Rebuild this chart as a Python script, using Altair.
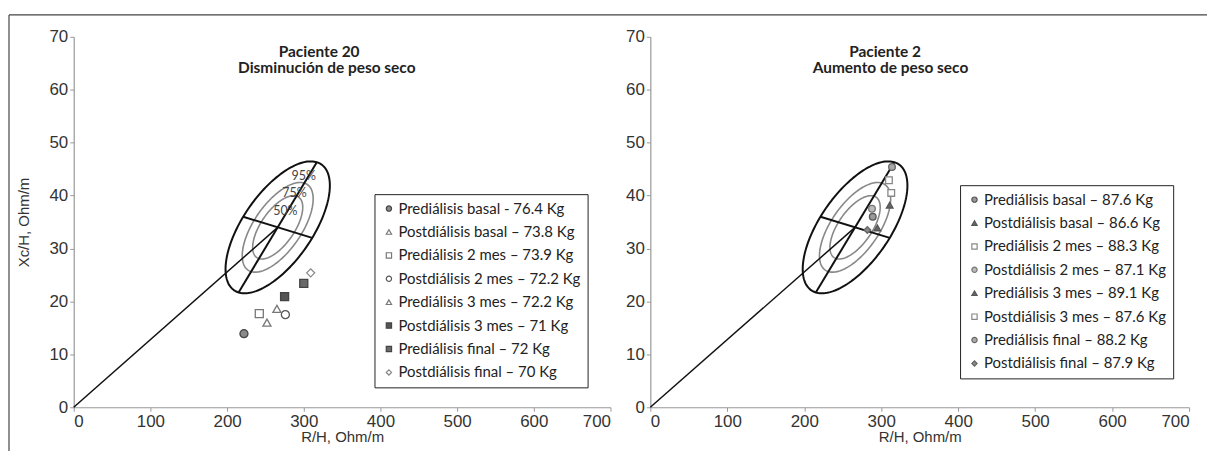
import numpy as np
import pandas as pd
import altair as alt

# ---------------- data ----------------
left_labels = [
    "Prediálisis basal -  76.4 Kg",
    "Postdiálisis basal – 73.8 Kg",
    "Prediálisis 2 mes – 73.9 Kg",
    "Postdiálisis 2 mes – 72.2 Kg",
    "Prediálisis 3 mes – 72.2 Kg",
    "Postdiálisis 3 mes – 71 Kg",
    "Prediálisis final – 72 Kg",
    "Postdiálisis final – 70 Kg",
]
left_rh = [222, 252, 242, 276, 265, 275, 300, 309]
left_xc = [13.9, 16.0, 17.7, 17.5, 18.6, 20.9, 23.4, 25.4]
left_shapes = ["circle", "triangle-up", "square", "circle", "triangle-up", "square", "square", "diamond"]
left_fills = ["#8a8a8a", "white", "white", "white", "white", "#555555", "#6a6a6a", "white"]
left_strokes = ["#444444", "#777777", "#777777", "#555555", "#777777", "#444444", "#444444", "#888888"]

right_labels = [
    "Prediálisis basal – 87.6 Kg",
    "Postdiálisis basal – 86.6 Kg",
    "Prediálisis 2 mes – 88.3 Kg",
    "Postdiálisis 2 mes – 87.1 Kg",
    "Prediálisis 3 mes – 89.1 Kg",
    "Postdiálisis 3 mes – 87.6 Kg",
    "Prediálisis final – 88.2 Kg",
    "Postdiálisis final – 87.9 Kg",
]
right_rh = [289, 295, 313, 288, 311, 310, 314, 282]
right_xc = [36.0, 33.9, 40.5, 37.5, 38.2, 42.9, 45.4, 33.5]
right_shapes = ["circle", "triangle-up", "square", "circle", "triangle-up", "square", "circle", "diamond"]
right_fills = ["#999999", "#666666", "white", "#bbbbbb", "#666666", "white", "#aaaaaa", "#888888"]
right_strokes = ["#555555", "#555555", "#888888", "#777777", "#555555", "#888888", "#666666", "#666666"]

# tolerance ellipse (reference population)
ell_center = (266, 34.0)
ell_major = (51, 12.3)   # half major axis vector (R/H, Xc/H)
ell_minor = (45, -2.0)   # half minor axis vector
ell_levels = ["95%", "75%", "50%"]
ell_scales = [1.0, 0.68, 0.48]

pct_labels = ["95%", "75%", "50%"]
pct_rh = [300, 288, 276]
pct_xc = [43.7, 40.5, 37.1]

x_ticks = [0, 100, 200, 300, 400, 500, 600, 700]
y_ticks = [0, 10, 20, 30, 40, 50, 60, 70]

FONT_AX = "Liberation Sans"
FONT_TX = "Lato"


def ellipse_frames():
    t = np.linspace(0, 2 * np.pi, 181)
    cx, cy = ell_center
    outer, inner = [], []
    for lev, s in zip(ell_levels, ell_scales):
        xs = cx + s * (ell_major[0] * np.cos(t) + ell_minor[0] * np.sin(t))
        ys = cy + s * (ell_major[1] * np.cos(t) + ell_minor[1] * np.sin(t))
        df = pd.DataFrame({"x": xs, "y": ys, "g": lev, "o": np.arange(len(t))})
        (outer if s == 1.0 else inner).append(df)
    segs = [
        pd.DataFrame({"x": [cx - ell_major[0], cx + ell_major[0]],
                      "y": [cy - ell_major[1], cy + ell_major[1]], "g": "major", "o": [0, 1]}),
        pd.DataFrame({"x": [cx - ell_minor[0], cx + ell_minor[0]],
                      "y": [cy - ell_minor[1], cy + ell_minor[1]], "g": "minor", "o": [0, 1]}),
    ]
    vec = pd.DataFrame({"x": [0, cx], "y": [0, cy], "g": "vec", "o": [0, 1]})
    return pd.concat(outer + segs), pd.concat(inner), vec


def panel(labels, rh, xc, shapes, fills, strokes, t1, t2, t1x, t2x, leg_x, leg_y, ytitle,
          show_pct, frame, width, psize):
    xenc = alt.X("x:Q", scale=alt.Scale(domain=[0, 700], nice=False, zero=False),
                 axis=alt.Axis(values=x_ticks, title="R/H, Ohm/m"))
    yenc = alt.Y("y:Q", scale=alt.Scale(domain=[0, 70], nice=False, zero=False),
                 axis=alt.Axis(values=y_ticks, title=ytitle))
    outer, inner, vec = ellipse_frames()
    l_outer = alt.Chart(outer).mark_line(color="#111", strokeWidth=2).encode(
        x=xenc, y=yenc, detail="g:N", order="o:Q")
    l_inner = alt.Chart(inner).mark_line(color="#888", strokeWidth=1.6).encode(
        x=xenc, y=yenc, detail="g:N", order="o:Q")
    l_vec = alt.Chart(vec).mark_line(color="#111", strokeWidth=1.5).encode(
        x=xenc, y=yenc, order="o:Q")

    pts = pd.DataFrame({"x": rh, "y": xc, "serie": labels})
    leg = alt.Legend(title=None, orient="none", legendX=leg_x, legendY=leg_y)
    l_pts = alt.Chart(pts).mark_point(size=psize, strokeWidth=1.3, opacity=1).encode(
        x=xenc, y=yenc,
        shape=alt.Shape("serie:N", scale=alt.Scale(domain=labels, range=shapes), legend=leg),
        fill=alt.Fill("serie:N", scale=alt.Scale(domain=labels, range=fills), legend=leg),
        stroke=alt.Stroke("serie:N", scale=alt.Scale(domain=labels, range=strokes), legend=leg),
    )
    tdf = pd.DataFrame({"x": [t1x, t2x], "y": [67.2, 64.1], "t": [t1, t2]})
    l_title = alt.Chart(tdf).mark_text(font=FONT_TX, fontSize=15.5, fontWeight="bold",
                                       color="#222").encode(x=xenc, y=yenc, text="t:N")
    layers = [l_inner, l_outer, l_vec, l_pts, l_title]
    if show_pct:
        pdf = pd.DataFrame({"x": pct_rh, "y": pct_xc, "t": pct_labels})
        layers.append(alt.Chart(pdf).mark_text(font=FONT_TX, fontSize=12.5, color="#444").encode(
            x=xenc, y=yenc, text="t:N"))
    if frame:
        # thin border of the figure (top and left edges)
        layers.append(alt.Chart(pd.DataFrame({"k": [0]})).mark_rule(color="#444", strokeWidth=1.2).encode(
            x=alt.value(-65), x2=alt.value(1138), y=alt.value(-22)))
        layers.append(alt.Chart(pd.DataFrame({"k": [0]})).mark_rule(color="#444", strokeWidth=1.2).encode(
            x=alt.value(-65), y=alt.value(-22), y2=alt.value(416)))
    return alt.layer(*layers).resolve_scale(shape="independent", fill="independent",
                                            stroke="independent").properties(width=width, height=372)


left = panel(left_labels, left_rh, left_xc, left_shapes, left_fills, left_strokes,
             "Paciente 20", "Disminución de peso seco", 320, 330, 302, 158, "Xc/H, Ohm/m",
             True, True, 539, 65)
right = panel(right_labels, right_rh, right_xc, right_shapes, right_fills, right_strokes,
              "Paciente 2", "Aumento de peso seco", 305, 312, 311, 149, None, False, False, 541, 45)

chart = alt.hconcat(left, right, spacing=40, bounds="flush").resolve_scale(
    shape="independent", fill="independent", stroke="independent"
).resolve_legend(shape="independent", fill="independent", stroke="independent").properties(
    padding={"left": 0, "top": 5, "right": 5, "bottom": 0}
).configure_view(stroke=None).configure_axis(
    grid=False, domainColor="#999", domainWidth=1.2, tickColor="#999", tickSize=4,
    labelFont=FONT_AX, labelFontSize=17, labelColor="#333", labelPadding=2,
    titleFont=FONT_AX, titleFontSize=15, titleFontWeight="normal", titleColor="#333",
).configure_axisX(titlePadding=0).configure_axisY(titlePadding=18).configure_legend(
    strokeColor="#222", fillColor="white", padding=7, labelFont=FONT_TX, labelFontSize=15,
    labelColor="#222", symbolSize=28, rowPadding=7.5, labelLimit=400, labelOffset=2,
    symbolStrokeWidth=1.2
)

chart.save("out.html", embed_options={"renderer": "svg", "actions": False})
